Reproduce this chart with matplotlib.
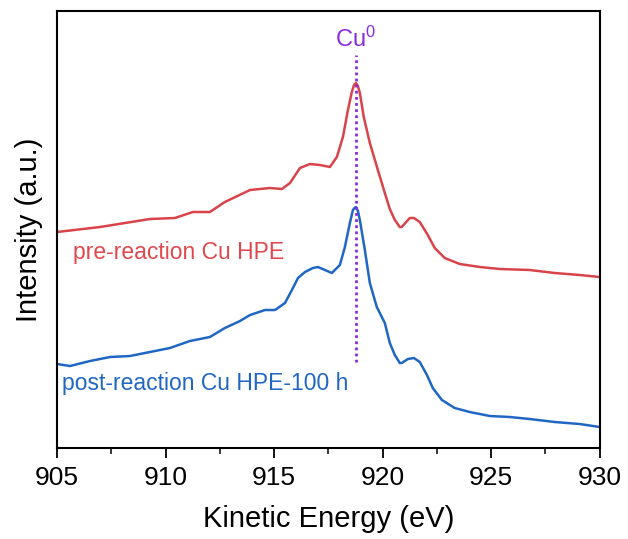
import numpy as np
import matplotlib
matplotlib.use("Agg")
import matplotlib.pyplot as plt
from matplotlib.ticker import MultipleLocator

plt.rcParams['font.family'] = ['Liberation Sans', 'DejaVu Sans']
plt.rcParams['mathtext.fontset'] = 'custom'
plt.rcParams['mathtext.rm'] = 'Liberation Sans'
plt.rcParams['mathtext.it'] = 'Liberation Sans:italic'

# pre-reaction Cu HPE (red)
pre_energy = [905.0, 906.98, 909.28, 910.43, 911.26, 912.04, 912.73, 913.89, 914.81, 915.36,
              915.73, 916.19, 916.65, 917.11, 917.57, 917.89, 918.17, 918.40, 918.58, 918.68,
              918.77, 918.86, 918.95, 919.13, 919.41, 919.78, 920.10, 920.33, 920.56, 920.79,
              920.88, 921.25, 921.44, 921.71, 922.08, 922.40, 922.86, 923.55, 924.48, 925.40,
              926.78, 927.93, 929.08, 930.0]
pre_int = [216, 221, 229, 230, 236, 236, 246, 258, 260, 259,
           265, 280, 284, 283, 281, 291, 311, 338, 356, 363,
           365, 362, 355, 331, 305, 278, 255, 239, 228, 221,
           221, 230, 230, 226, 213, 200, 190, 184, 181, 179,
           178, 175, 173, 171]

# post-reaction Cu HPE-100 h (blue)
post_energy = [905.0, 905.60, 906.52, 907.44, 908.36, 909.28, 910.20, 911.12, 912.04, 912.73,
               913.43, 913.89, 914.58, 915.04, 915.50, 915.82, 916.10, 916.42, 916.79, 917.02,
               917.34, 917.66, 918.03, 918.26, 918.49, 918.63, 918.70, 918.77, 918.86, 918.95,
               919.18, 919.41, 919.73, 920.10, 920.33, 920.56, 920.79, 920.88, 921.16, 921.44,
               921.71, 922.04, 922.31, 922.73, 923.32, 924.01, 924.94, 925.86, 926.78, 927.93,
               929.08, 930.0]
post_int = [84, 82, 87, 91, 92, 96, 100, 107, 111, 120,
            127, 133, 138, 138, 145, 158, 170, 176, 180, 181,
            178, 175, 183, 201, 225, 238, 240, 241, 237, 228,
            198, 165, 141, 125, 105, 93, 85, 85, 89, 90,
            86, 73, 60, 48, 40, 36, 32, 31, 29, 26,
            24, 21]

cu0_energy = 918.77

red = '#d9444a'
blue = '#2067c4'
purple = '#8a2be2'

fig = plt.figure(figsize=(6.28, 5.39), dpi=100)
ax = fig.add_axes([0.0908, 0.1688, 0.8642, 0.8108])

ax.plot(pre_energy, pre_int, color=red, lw=1.8)
ax.plot(post_energy, post_int, color=blue, lw=1.8)
ax.vlines(cu0_energy, 86, 393, colors=purple, linestyles=(0, (1, 1.2)), lw=2)
ax.text(cu0_energy, 409, 'Cu$^{0}$', color=purple, fontsize=17, ha='center', va='center')

ax.text(905.75, 196, 'pre-reaction Cu HPE', color='#e0484e', fontsize=16.5, va='center')
ax.text(905.25, 65, 'post-reaction Cu HPE-100 h', color=blue, fontsize=16.5, va='center')

ax.set_xlim(905, 930)
ax.set_ylim(0, 437)
ax.xaxis.set_major_locator(MultipleLocator(5))
ax.xaxis.set_minor_locator(MultipleLocator(2.5))
ax.set_yticks([])
ax.tick_params(axis='x', which='major', direction='out', length=7, width=1.3, labelsize=19, pad=6)
ax.tick_params(axis='x', which='minor', direction='out', length=4, width=1.1)
for s in ax.spines.values():
    s.set_linewidth(1.5)

ax.set_xlabel('Kinetic Energy (eV)', fontsize=21, labelpad=11)
ax.set_ylabel('Intensity (a.u.)', fontsize=21, labelpad=10)

fig.savefig('out.png', dpi=100)
